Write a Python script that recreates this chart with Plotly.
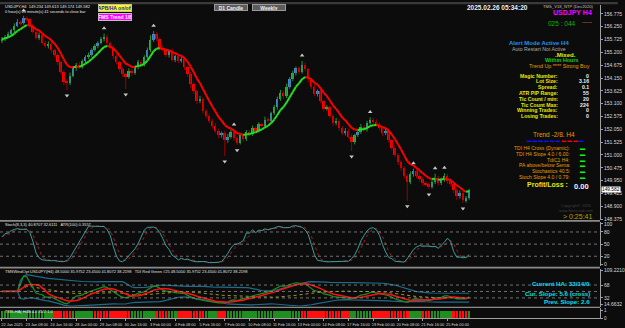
import numpy as np
import pandas as pd
import plotly.graph_objects as go

# ---------------- data (USDJPY H4) ----------------
first_open = 155.65
closes = [
    155.75, 155.85, 155.95, 156.10, 156.30, 156.45, 156.40, 156.60, 156.55, 156.30,
    156.05, 155.80, 155.90, 155.60, 155.45, 155.55, 155.30, 155.10, 154.80, 154.40,
    154.00, 153.95, 154.25, 154.55, 154.70, 154.60, 154.85, 155.00, 155.10, 155.30,
    155.45, 155.60, 155.75, 155.85, 155.60, 155.40, 155.05, 154.80, 154.50, 154.30,
    154.20, 154.45, 154.35, 154.60, 154.80, 154.70, 155.00, 155.30, 155.70, 155.95,
    155.75, 155.40, 155.30, 155.10, 155.25, 154.90, 155.05, 154.85, 154.95, 154.60,
    154.30, 153.90, 153.60, 153.20, 153.30, 152.80, 152.60, 152.40, 152.20, 152.00,
    151.80, 151.90, 151.60, 151.75, 151.95, 151.70, 151.50, 151.80, 151.65, 151.95,
    151.85, 152.10, 152.00, 152.25, 152.20, 152.45, 152.40, 152.70, 152.95, 153.30,
    153.55, 153.40, 153.80, 154.10, 154.35, 154.55, 154.40, 154.70, 154.50, 154.10,
    153.80, 153.50, 153.60, 153.20, 152.90, 152.95, 152.60, 152.30, 152.40, 152.10,
    151.90, 152.00, 151.75, 151.55, 151.80, 151.95, 152.15, 152.05, 152.30, 152.45,
    152.35, 152.25, 152.10, 151.90, 152.00, 151.60, 151.30, 151.00, 150.70, 150.45,
    150.15, 149.90, 150.20, 150.35, 150.15, 150.00, 149.85, 149.80, 149.70, 149.90,
    150.05, 149.85, 150.00, 150.15, 149.95, 149.80, 149.55, 149.30, 149.45, 149.15,
    149.23, 149.58,
]
# wick lengths in hundredths of a yen (above max(open,close) / below min(open,close))
upper_wick = [
    8, 6, 10, 7, 9, 12, 6, 10, 8, 5,
    7, 9, 12, 6, 8, 10, 7, 5, 9, 6,
    8, 10, 12, 9, 7, 11, 6, 8, 10, 7,
    9, 6, 8, 12, 7, 5, 10, 8, 6, 9,
    7, 10, 8, 6, 9, 7, 8, 10, 20, 12,
    9, 6, 10, 8, 7, 11, 6, 9, 8, 7,
    6, 10, 8, 7, 12, 6, 9, 8, 7, 10,
    8, 6, 9, 11, 7, 8, 10, 6, 9, 7,
    8, 10, 7, 9, 6, 12, 8, 7, 10, 9,
    11, 8, 12, 9, 10, 7, 8, 15, 9, 6,
    7, 10, 8, 12, 6, 9, 7, 8, 11, 6,
    8, 10, 7, 9, 6, 8, 12, 7, 10, 9,
    8, 11, 9, 7, 10, 8, 6, 9, 7, 8,
    10, 7, 12, 9, 8, 16, 9, 7, 10, 8,
    18, 9, 7, 10, 8, 9, 6, 8, 10, 7,
    9, 3,
]
lower_wick = [
    7, 9, 6, 8, 10, 7, 9, 6, 8, 10,
    9, 7, 10, 8, 6, 9, 11, 8, 12, 10,
    14, 30, 9, 7, 10, 8, 6, 9, 7, 8,
    6, 8, 7, 10, 9, 8, 12, 9, 10, 11,
    50, 8, 12, 7, 9, 10, 8, 6, 9, 7,
    10, 12, 8, 9, 11, 8, 10, 9, 7, 12,
    10, 14, 9, 12, 8, 11, 10, 9, 12, 10,
    11, 9, 65, 10, 8, 12, 9, 7, 10, 8,
    9, 7, 10, 8, 9, 7, 8, 10, 6, 9,
    8, 10, 7, 9, 8, 10, 9, 7, 8, 12,
    10, 9, 11, 8, 12, 9, 10, 12, 8, 11,
    9, 10, 8, 39, 12, 7, 9, 8, 10, 7,
    9, 8, 10, 12, 9, 10, 12, 9, 11, 10,
    12, 78, 10, 9, 11, 8, 12, 9, 10, 8,
    9, 11, 8, 10, 12, 9, 11, 14, 9, 12,
    10, 6,
]
# Heiken-Ashi strip colours (G = green, R = red), one per bar
ha_state = ("GGGGGGGGGGGGGGGGG" "RRRRRR" "GGGGGGG" "RRRRRRRRRRRR" "GGGGGGGG"
            "RRRR" "GGG" "RRRRRRRRR" "GGGG" "RRR" "GGGGGGGGGGGGGGGGGGGGGGGG"
            "RRRRRRRRRRRRRRRR" "GGGGGGG" "RRRRRRRRRRRR" "GGGG" "RRR" "GGGGGGG"
            "RRRRR" "G")

date_tick_bars = [0, 8, 16, 24, 32, 40, 48, 56, 64, 72, 80, 88, 96, 104, 112, 120, 128, 136, 144]
date_tick_text = ["22 Jan 2025", "23 Jan 08:00", "24 Jan 16:00", "28 Jan 00:00", "29 Jan 08:00",
                  "30 Jan 16:00", "3 Feb 00:00", "4 Feb 08:00", "5 Feb 16:00", "7 Feb 00:00",
                  "10 Feb 08:00", "11 Feb 16:00", "13 Feb 00:00", "14 Feb 08:00", "17 Feb 16:00",
                  "19 Feb 00:00", "20 Feb 08:00", "21 Feb 16:00", "25 Feb 00:00"]
price_ticks = [156.775, 156.250, 155.725, 155.200, 154.675, 154.150, 153.625, 153.100,
               152.575, 152.050, 151.525, 151.000, 150.475, 149.950, 149.425, 148.900, 148.375]
stoch_ticks = [100, 80, 50, 20, 0]
stoch_levels = [80, 50, 20]
tdi_ticks = [109.2210, 68, 32, 14.6632]
tdi_tick_text = ["109.2210", "68", "32", "14.6632"]
tdi_levels = [68, 50, 32]
ha_ticks = [1, 0]
last_price = 149.582

assert len(closes) == len(upper_wick) == len(lower_wick) == len(ha_state) == 152

# ---------------- derived series ----------------
n = len(closes)
idx = np.arange(n)
c = np.array(closes)
o = np.concatenate([[first_open], c[:-1]])
h = np.maximum(o, c) + np.array(upper_wick) / 100.0
l = np.minimum(o, c) - np.array(lower_wick) / 100.0
cs, hs, ls = pd.Series(c), pd.Series(h), pd.Series(l)
up = c >= o

# moving-average line, coloured by slope
ma = cs.ewm(span=8, adjust=False).mean().values
seg = {"up": ([], []), "dn": ([], [])}
for i in range(n - 1):
    key = "up" if ma[i + 1] >= ma[i] else "dn"
    xs, ys = seg[key]
    xs += [i, i + 1, None]
    ys += [ma[i], ma[i + 1], None]

# fractals
fr_up_x, fr_up_y, fr_dn_x, fr_dn_y = [], [], [], []
for i in range(2, n - 2):
    if h[i] > max(h[i - 2], h[i - 1], h[i + 1], h[i + 2]):
        fr_up_x.append(i); fr_up_y.append(h[i] + 0.22)
    if l[i] < min(l[i - 2], l[i - 1], l[i + 1], l[i + 2]):
        fr_dn_x.append(i); fr_dn_y.append(l[i] - 0.22)

# stochastic (8,3,3)
ll = ls.rolling(8, min_periods=1).min()
hh = hs.rolling(8, min_periods=1).max()
num = (cs - ll).rolling(3, min_periods=1).sum()
den = (hh - ll).rolling(3, min_periods=1).sum()
stoch_k = 100 * num / den
stoch_d = stoch_k.rolling(3, min_periods=1).mean()

# TDI
delta = cs.diff().fillna(0)
au = delta.clip(lower=0).ewm(alpha=1 / 13, adjust=False).mean()
ad = (-delta.clip(upper=0)).ewm(alpha=1 / 13, adjust=False).mean()
rsi = (100 - 100 / (1 + au / ad.replace(0, np.nan))).fillna(50)
tdi_green = rsi.rolling(2, min_periods=1).mean()
tdi_red = rsi.rolling(7, min_periods=1).mean()
tdi_mid = rsi.rolling(34, min_periods=1).mean()
tdi_sd = rsi.rolling(34, min_periods=2).std().bfill()
tdi_up = tdi_mid + 1.6185 * tdi_sd
tdi_dn = tdi_mid - 1.6185 * tdi_sd

# ---------------- layout helpers ----------------
W, H = 625, 328
MR, MB = 18, 10
PW, PH = W - MR, H - MB
BG = "#0c0c0c"
FONT = "Liberation Sans, Arial, sans-serif"


def px(x):
    return x / PW


def py(y):
    return 1 - y / PH


X0 = (0 - 2) / 3.13
X1 = (PW - 2) / 3.13

fig = go.Figure()


def wick_xy(mask):
    xs, ys = [], []
    for i in idx[mask]:
        xs += [i, i, None]
        ys += [l[i], h[i], None]
    return xs, ys


for mask, col in [(up, "#1f9a1f"), (~up, "#9a0000")]:
    wx, wy = wick_xy(mask)
    fig.add_trace(go.Scatter(x=wx, y=wy, mode="lines", yaxis="y", line=dict(color=col, width=1),
                             hoverinfo="skip", showlegend=False))
body = np.maximum(np.abs(c - o), 0.03)
fig.add_trace(go.Bar(x=idx[up], y=body[up], base=o[up], yaxis="y", width=0.62,
                     marker=dict(color="#4a84d8", line=dict(width=0)), hoverinfo="skip", showlegend=False))
fig.add_trace(go.Bar(x=idx[~up], y=body[~up], base=c[~up], yaxis="y", width=0.62,
                     marker=dict(color="#ff0000", line=dict(width=0)), hoverinfo="skip", showlegend=False))

fig.add_trace(go.Scatter(x=seg["dn"][0], y=seg["dn"][1], mode="lines", yaxis="y",
                         line=dict(color="#ff0000", width=2), hoverinfo="skip", showlegend=False))
fig.add_trace(go.Scatter(x=seg["up"][0], y=seg["up"][1], mode="lines", yaxis="y",
                         line=dict(color="#22e022", width=2), hoverinfo="skip", showlegend=False))
fig.add_trace(go.Scatter(x=fr_up_x, y=fr_up_y, mode="markers", yaxis="y",
                         marker=dict(symbol="triangle-up", size=4, color="#c8c8c8"),
                         hoverinfo="skip", showlegend=False))
fig.add_trace(go.Scatter(x=fr_dn_x, y=fr_dn_y, mode="markers", yaxis="y",
                         marker=dict(symbol="triangle-down", size=4, color="#c8c8c8"),
                         hoverinfo="skip", showlegend=False))

# stochastic
fig.add_trace(go.Scatter(x=idx, y=stoch_d, mode="lines", yaxis="y2",
                         line=dict(color="#b01818", width=1, dash="dot"), hoverinfo="skip", showlegend=False))
fig.add_trace(go.Scatter(x=idx, y=stoch_k, mode="lines", yaxis="y2",
                         line=dict(color="#35a0a0", width=1), hoverinfo="skip", showlegend=False))

# TDI
for ser, col, wd, dash in [(tdi_up, "#1d6c8c", 1.2, "solid"), (tdi_dn, "#1d6c8c", 1.2, "solid"),
                           (tdi_mid, "#a09a20", 1, "dot"), (tdi_green, "#1e8e1e", 1.2, "solid"),
                           (tdi_red, "#ff1010", 1.5, "solid")]:
    fig.add_trace(go.Scatter(x=idx, y=ser, mode="lines", yaxis="y3",
                             line=dict(color=col, width=wd, dash=dash), hoverinfo="skip", showlegend=False))

# HA strip
fig.add_trace(go.Bar(x=idx, y=[1] * n, base=0, yaxis="y4", width=0.82,
                     marker=dict(color=["#1f8f1f" if s == "G" else "#ff1010" for s in ha_state], line=dict(width=0)),
                     hoverinfo="skip", showlegend=False))

yax = dict(anchor="x", side="right", showgrid=False, zeroline=False, showline=True,
           linecolor="#a0a0a0", linewidth=1, ticks="outside", ticklen=2, tickcolor="#a0a0a0",
           tickfont=dict(size=5, color="#d8d8d8", family=FONT), fixedrange=True)

scale = 0.525 / 12.9
fig.update_layout(
    width=W, height=H, margin=dict(l=0, r=MR, t=0, b=MB),
    paper_bgcolor=BG, plot_bgcolor=BG, showlegend=False, barmode="overlay", bargap=0,
    xaxis=dict(anchor="y4", domain=[0, 1], range=[X0, X1],
               tickvals=date_tick_bars, ticktext=date_tick_text, tickangle=0, ticks="outside", ticklen=2,
               tickcolor="#a0a0a0", tickfont=dict(size=3.9, color="#d8d8d8", family=FONT),
               ticklabelshift=10, ticklabelstandoff=0, showgrid=False, zeroline=False, showline=True,
               linecolor="#a0a0a0", fixedrange=True),
    yaxis=dict(yax, domain=[py(219.5), py(3)],
               range=[156.775 - 207.5 * scale, 156.775 + 9 * scale],
               tickvals=price_ticks, tickformat=".3f"),
    yaxis2=dict(yax, domain=[py(266), py(221)], range=[-4.9, 105.6], tickvals=stoch_ticks),
    yaxis3=dict(yax, domain=[py(306.5), py(268.5)], range=[7.7, 113.4],
                tickvals=tdi_ticks, ticktext=tdi_tick_text),
    yaxis4=dict(yax, domain=[py(318), py(308)], range=[0, 1.4], tickvals=ha_ticks,
                ticktext=[str(t) for t in ha_ticks], tickfont=dict(size=4.5, color="#d8d8d8", family=FONT)),
)

shapes = [
    dict(type="rect", xref="paper", yref="paper", x0=0, x1=W / PW, y0=py(0), y1=py(2.2),
         fillcolor="#3a3a3a", line=dict(width=0)),
]
for yy, wd in [(220.3, 1.6), (267.3, 1.6), (307.3, 1.4)]:
    shapes.append(dict(type="line", xref="paper", yref="paper", x0=0, x1=1, y0=py(yy), y1=py(yy),
                       line=dict(color="#8a8a8a", width=wd)))
for lv in stoch_levels:
    shapes.append(dict(type="line", xref="paper", yref="y2", x0=0, x1=1, y0=lv, y1=lv,
                       line=dict(color="#8c8c8c", width=0.8, dash="dot")))
for lv in tdi_levels:
    shapes.append(dict(type="line", xref="paper", yref="y3", x0=0, x1=1, y0=lv, y1=lv,
                       line=dict(color="#8c8c8c", width=0.8, dash="dot")))
fig.update_layout(shapes=shapes)


def ann(x, y, text, color="#e0e0e0", size=5, bold=False, xanchor="left", **kw):
    t = f"<b>{text}</b>" if bold else text
    return dict(x=px(x), y=py(y), xref="paper", yref="paper", text=t, showarrow=False,
                font=dict(color=color, size=size, family=FONT), xanchor=xanchor, yanchor="middle", **kw)


YEL = "#e8e800"
ORG = "#e69a00"
CYA = "#00e0e8"
anns = [
    ann(3, 4.5, "USDJPY,H4  149.234 149.613 149.174 149.582", "#e8e8e8", 4),
    ann(3, 10, "0 hour(s) 25 minute(s) 41 seconds to close bar", "#e8e8e8", 3.9),
    ann(116, 6.5, "APB/HA on/off", "#1020c0", 5, True, "center", bgcolor="#ffff00",
        bordercolor="#c0c0c0", borderwidth=1, borderpad=0, width=32, height=6),
    ann(116, 15, "FMS Trend 1/8", "#ffffff", 5, True, "center", bgcolor="#ff00ff",
        bordercolor="#c0c0c0", borderwidth=1, borderpad=0, width=32, height=6),
    ann(234, 5.5, "D1 Candle", "#f0f0f0", 5, True, "center", bgcolor="#5c5c5c",
        bordercolor="#9a9a9a", borderwidth=1, borderpad=0, width=32, height=5),
    ann(272, 5.5, "Weekly", "#f0f0f0", 5, True, "center", bgcolor="#5c5c5c",
        bordercolor="#9a9a9a", borderwidth=1, borderpad=0, width=32, height=5),
    ann(503, 6, "2025.02.26 05:34:20", "#f0f0f0", 6.5, True, "center"),
    ann(603, 4.5, "TMS_V18_NTP (Dec2020)", "#c0c0c0", 4.2, False, "right"),
    ann(601, 11, "USDJPY H4", "#ff00ff", 7, True, "right"),
    ann(568, 22, "025 : 044", "#10b010", 6.5, False, "center"),
    ann(601, 19.5, "......", "#b07a20", 6, True, "right"),
    ann(545, 41.5, "Alert Mode Active H4", "#1e90ff", 6, True, "center"),
    ann(545, 47, "Auto Restart Not Active", "#a8a8a8", 5.2, False, "center"),
    ann(572, 53, ".Mixed.", YEL, 6, True, "center"),
    ann(569, 58.5, "Within Hours", "#10d010", 5.4, True, "center"),
    ann(566, 64, "Trend Up **** Strong Buy", ORG, 5.4, False, "center"),
]
stats = [("Magic Number:", "0"), ("Lot Size:", "3.16"), ("Spread:", "0.1"), ("ATR PIP Range:", "55"),
         ("Tic Count / min:", "20"), ("Tic Count Max:", "224"), ("Winning Trades:", "0"),
         ("Losing Trades:", "0")]
for k, (lab, val) in enumerate(stats):
    yy = 74 + k * 5.85
    anns.append(ann(567, yy, lab, YEL, 5.2, True, "right"))
    anns.append(ann(598, yy, val, "#f0f0f0", 5.2, True, "right"))
anns.append(ann(560, 133, "Trend -2/8. H4", ORG, 6.5, False, "center"))
dash_cols = ["#1010ff"] * 6 + ["#ff0000"] * 3 + ["#1010ff"]
anns.append(ann(562, 139, "".join(f'<span style="color:{cc}">▬ </span>' for cc in dash_cols),
                "#1010ff", 4.5, False, "center"))
checks = ["TDI H4 Cross (Dynamic):", "TDI H4 Slope 4.0 / 6.00:", "TdiC1 H4:", "PA above/below Sema:",
          "Stochastics 40.5:", "Stoch Slope 4.0 / 0.79:"]
for k, lab in enumerate(checks):
    yy = 147 + k * 5.8
    anns.append(ann(579, yy, lab, ORG, 5, False, "right"))
    anns.append(ann(589, yy, "▬", "#00ff00", 5, False, "center"))
anns += [
    ann(577, 184, "Profit/Loss :", YEL, 7, True, "right"),
    ann(598, 186, "0.00", "#f4f4f4", 7.5, True, "right"),
    ann(583, 204.5, "Copyright© 2015", "#404040", 4, False, "center"),
    ann(583, 210, "www.forex-tsd.com", "#404040", 4, False, "center"),
    ann(601, 215.5, "&gt; 0:25:41", "#a8a800", 7, False, "right"),
    ann(3, 224, "Stoch(8,3,3) 40.8707 32.6111   ATR(100) 0.3557", "#e0e0e0", 4),
    ann(3, 271, "TMSWindOpt USDJPY(H4) 48.5000 35.9752 23.4500 41.8072 38.2198   "
                "TDI Red Green #25 48.5000 35.9752 23.4500 41.8072 38.2198", "#e0e0e0", 4),
    ann(599, 283, "Current HA: 33/14/0", CYA, 6.2, True, "right"),
    ann(599, 293, "Cur. Slope: 5.6 (cross)", CYA, 6.2, True, "right"),
    ann(599, 301.5, "Prev. Slope: 2.6", CYA, 6.2, True, "right"),
    ann(3, 311.5, "TMS-HA( H4B:4.0 35/2 1.0", "#f0f0f0", 4),
    dict(x=1.001, y=last_price, xref="paper", yref="y", text=f"{last_price:.3f}", showarrow=False,
         font=dict(color="#000000", size=4.8, family=FONT), xanchor="left", yanchor="middle",
         bgcolor="#ffffff", borderpad=0),
]
fig.update_layout(annotations=anns)

fig.write_html("out.html", config={"displayModeBar": False})
